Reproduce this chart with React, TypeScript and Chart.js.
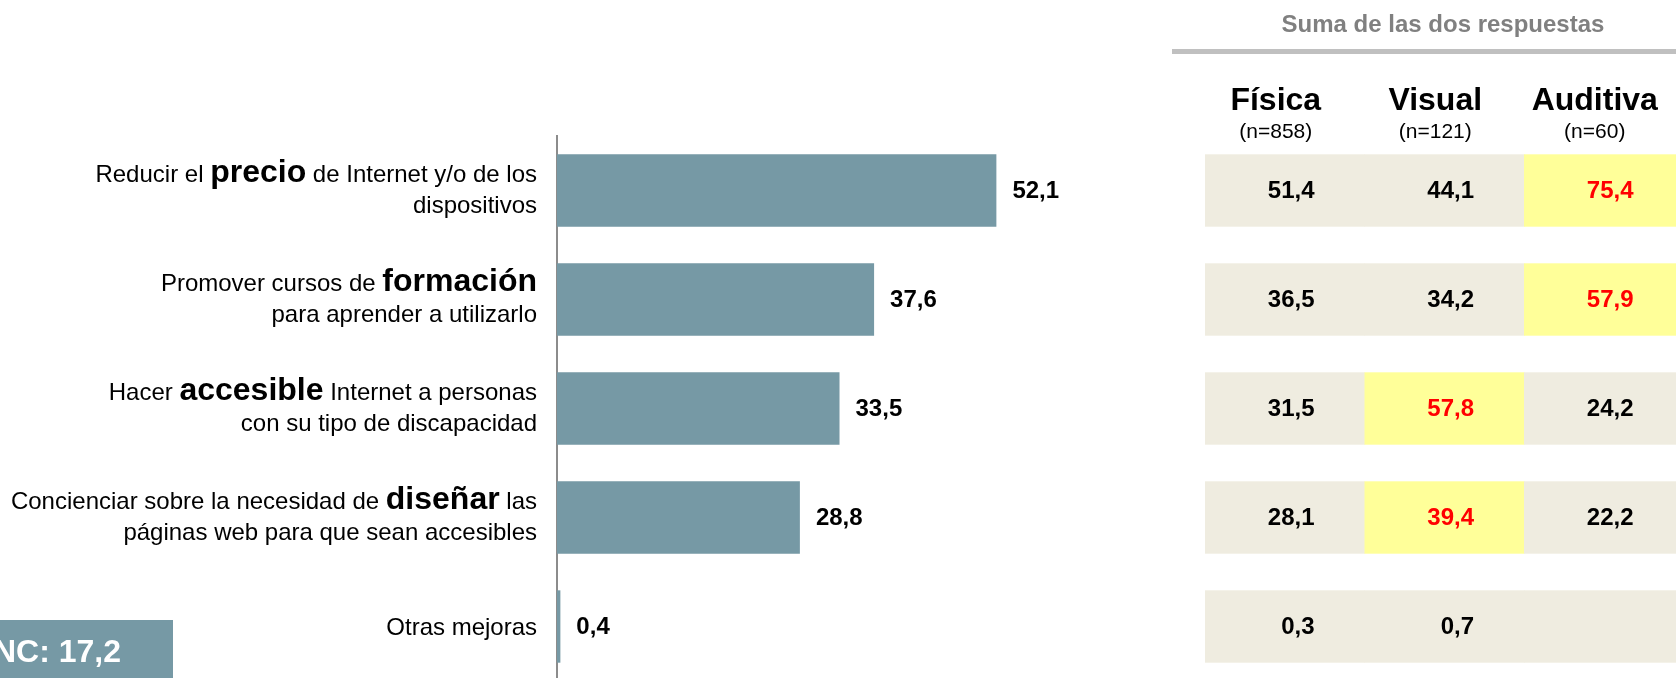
import React, { useEffect, useRef } from "react";
import { Chart, registerables } from "chart.js";

Chart.register(...registerables);

// ---------- DATA ----------
const categories = [
  "Reducir el precio de Internet y/o de los dispositivos",
  "Promover cursos de formación para aprender a utilizarlo",
  "Hacer accesible Internet a personas con su tipo de discapacidad",
  "Concienciar sobre la necesidad de diseñar las páginas web para que sean accesibles",
  "Otras mejoras",
];
// rich label lines: each line = list of [text, isKeyword]
const categoryLines: [string, boolean][][][] = [
  [[["Reducir el ", false], ["precio", true], [" de Internet y/o de los", false]], [["dispositivos", false]]],
  [[["Promover cursos de ", false], ["formación", true]], [["para aprender a utilizarlo", false]]],
  [[["Hacer ", false], ["accesible", true], [" Internet a personas", false]], [["con su tipo de discapacidad", false]]],
  [[["Concienciar sobre la necesidad de ", false], ["diseñar", true], [" las", false]], [["páginas web para que sean accesibles", false]]],
  [[["Otras mejoras", false]]],
];
const totalValues = [52.1, 37.6, 33.5, 28.8, 0.4];

const tableTitle = "Suma de las dos respuestas";
const tableColumns = ["Física", "Visual", "Auditiva"];
const tableSizes = ["(n=858)", "(n=121)", "(n=60)"];
const fisicaValues: (number | null)[] = [51.4, 36.5, 31.5, 28.1, 0.3];
const visualValues: (number | null)[] = [44.1, 34.2, 57.8, 39.4, 0.7];
const auditivaValues: (number | null)[] = [75.4, 57.9, 24.2, 22.2, null];
const fisicaHighlight = [false, false, false, false, false];
const visualHighlight = [false, false, true, true, false];
const auditivaHighlight = [true, true, false, false, false];

const ncLabel = "NC";
const ncValue = 17.2;

// ---------- STYLE ----------
const FONT = "'Liberation Sans', Arial, Helvetica, sans-serif";
const BAR_COLOR = "#7699A5";
const AXIS_COLOR = "#8C8C8C";
const CELL_COLOR = "#EFECE0";
const HIGHLIGHT_COLOR = "#FFFF99";
const HIGHLIGHT_TEXT = "#FF0000";
const TITLE_COLOR = "#808080";
const RULE_COLOR = "#C0C0C0";

const W = 1676;
const H = 681;

const fmt = (v: number) => v.toFixed(1).replace(".", ",");

const overlayPlugin = {
  id: "overlay",
  afterDatasetsDraw(chart: any) {
    const ctx: CanvasRenderingContext2D = chart.ctx;
    const meta = chart.getDatasetMeta(0);
    const area = chart.chartArea;
    ctx.save();

    // category labels (rich text, right aligned)
    const labelRight = area.left - 20;
    categoryLines.forEach((lines, i) => {
      const bar = meta.data[i];
      const c = bar.y;
      const baselines = lines.length === 2 ? [c - 9, c + 22.5] : [c + 8.5];
      lines.forEach((segs, li) => {
        let total = 0;
        const widths = segs.map(([t, b]) => {
          ctx.font = b ? `bold 32px ${FONT}` : `24px ${FONT}`;
          const w = ctx.measureText(t).width;
          total += w;
          return w;
        });
        let x = labelRight - total;
        ctx.textAlign = "left";
        ctx.textBaseline = "alphabetic";
        ctx.fillStyle = "#000";
        segs.forEach(([t, b], si) => {
          ctx.font = b ? `bold 32px ${FONT}` : `24px ${FONT}`;
          ctx.fillText(t, x, baselines[li]);
          x += widths[si];
        });
      });
    });

    // value labels
    ctx.font = `bold 24px ${FONT}`;
    ctx.fillStyle = "#000";
    ctx.textAlign = "left";
    ctx.textBaseline = "middle";
    totalValues.forEach((v, i) => {
      const bar = meta.data[i];
      ctx.fillText(fmt(v), bar.x + 16, bar.y + 1);
    });

    // table
    const tableLeft = 1205;
    const colW = 159.5;
    const cols = [
      { vals: fisicaValues, hl: fisicaHighlight },
      { vals: visualValues, hl: visualHighlight },
      { vals: auditivaValues, hl: auditivaHighlight },
    ];
    // title + rule
    ctx.font = `bold 24px ${FONT}`;
    ctx.fillStyle = TITLE_COLOR;
    ctx.textAlign = "center";
    ctx.textBaseline = "alphabetic";
    ctx.fillText(tableTitle, 1443, 32);
    ctx.fillStyle = RULE_COLOR;
    ctx.fillRect(1172, 49, W - 1172, 5);

    // headers
    tableColumns.forEach((name, ci) => {
      const cx = tableLeft + ci * colW + colW / 2 - 9;
      ctx.fillStyle = "#000";
      ctx.textAlign = "center";
      ctx.font = `bold 32px ${FONT}`;
      ctx.fillText(name, cx, 110);
      ctx.font = `21px ${FONT}`;
      ctx.fillText(tableSizes[ci], cx, 138);
    });

    // cells
    for (let i = 0; i < categories.length; i++) {
      const bar = meta.data[i];
      const h = bar.height;
      const top = bar.y - h / 2;
      cols.forEach((col, ci) => {
        const left = tableLeft + ci * colW;
        ctx.fillStyle = col.hl[i] ? HIGHLIGHT_COLOR : CELL_COLOR;
        ctx.fillRect(left, top, colW + (ci === cols.length - 1 ? 10 : 0.5), h);
        const v = col.vals[i];
        if (v !== null && v !== undefined) {
          ctx.font = `bold 24px ${FONT}`;
          ctx.fillStyle = col.hl[i] ? HIGHLIGHT_TEXT : "#000";
          ctx.textAlign = "right";
          ctx.textBaseline = "middle";
          ctx.fillText(fmt(v), left + colW - 50, bar.y + 1);
        }
      });
    }

    // NC box
    ctx.fillStyle = BAR_COLOR;
    ctx.fillRect(0, 620, 173, 58);
    ctx.font = `bold 32px ${FONT}`;
    ctx.fillStyle = "#fff";
    ctx.textAlign = "right";
    ctx.textBaseline = "alphabetic";
    ctx.fillText(`${ncLabel}: ${fmt(ncValue)}`, 121, 662);

    ctx.restore();
  },
};

export default function App() {
  const ref = useRef<HTMLCanvasElement | null>(null);
  useEffect(() => {
    if (!ref.current) return;
    const chart = new Chart(ref.current, {
      type: "bar",
      data: {
        labels: categories,
        datasets: [
          {
            data: totalValues,
            backgroundColor: BAR_COLOR,
            barPercentage: 0.664,
            categoryPercentage: 1,
          },
        ],
      },
      options: {
        indexAxis: "y",
        responsive: false,
        animation: false,
        layout: { padding: { left: 557, right: 613, top: 136, bottom: 0 } },
        plugins: { legend: { display: false }, tooltip: { enabled: false } },
        scales: {
          x: { min: 0, max: 60, display: false },
          y: {
            ticks: { display: false },
            grid: { display: false, drawTicks: false },
            border: { display: true, color: AXIS_COLOR, width: 2 },
            afterFit: (s: any) => {
              s.width = 0;
            },
          },
        },
      } as any,
      plugins: [overlayPlugin],
    });
    return () => chart.destroy();
  }, []);
  return (
    <div
      style={{
        position: "fixed",
        left: 0,
        top: 0,
        width: W,
        height: 678,
        overflow: "hidden",
        background: "#fff",
      }}
    >
      <canvas ref={ref} width={W} height={H} style={{ display: "block", width: W, height: H }} />
    </div>
  );
}
